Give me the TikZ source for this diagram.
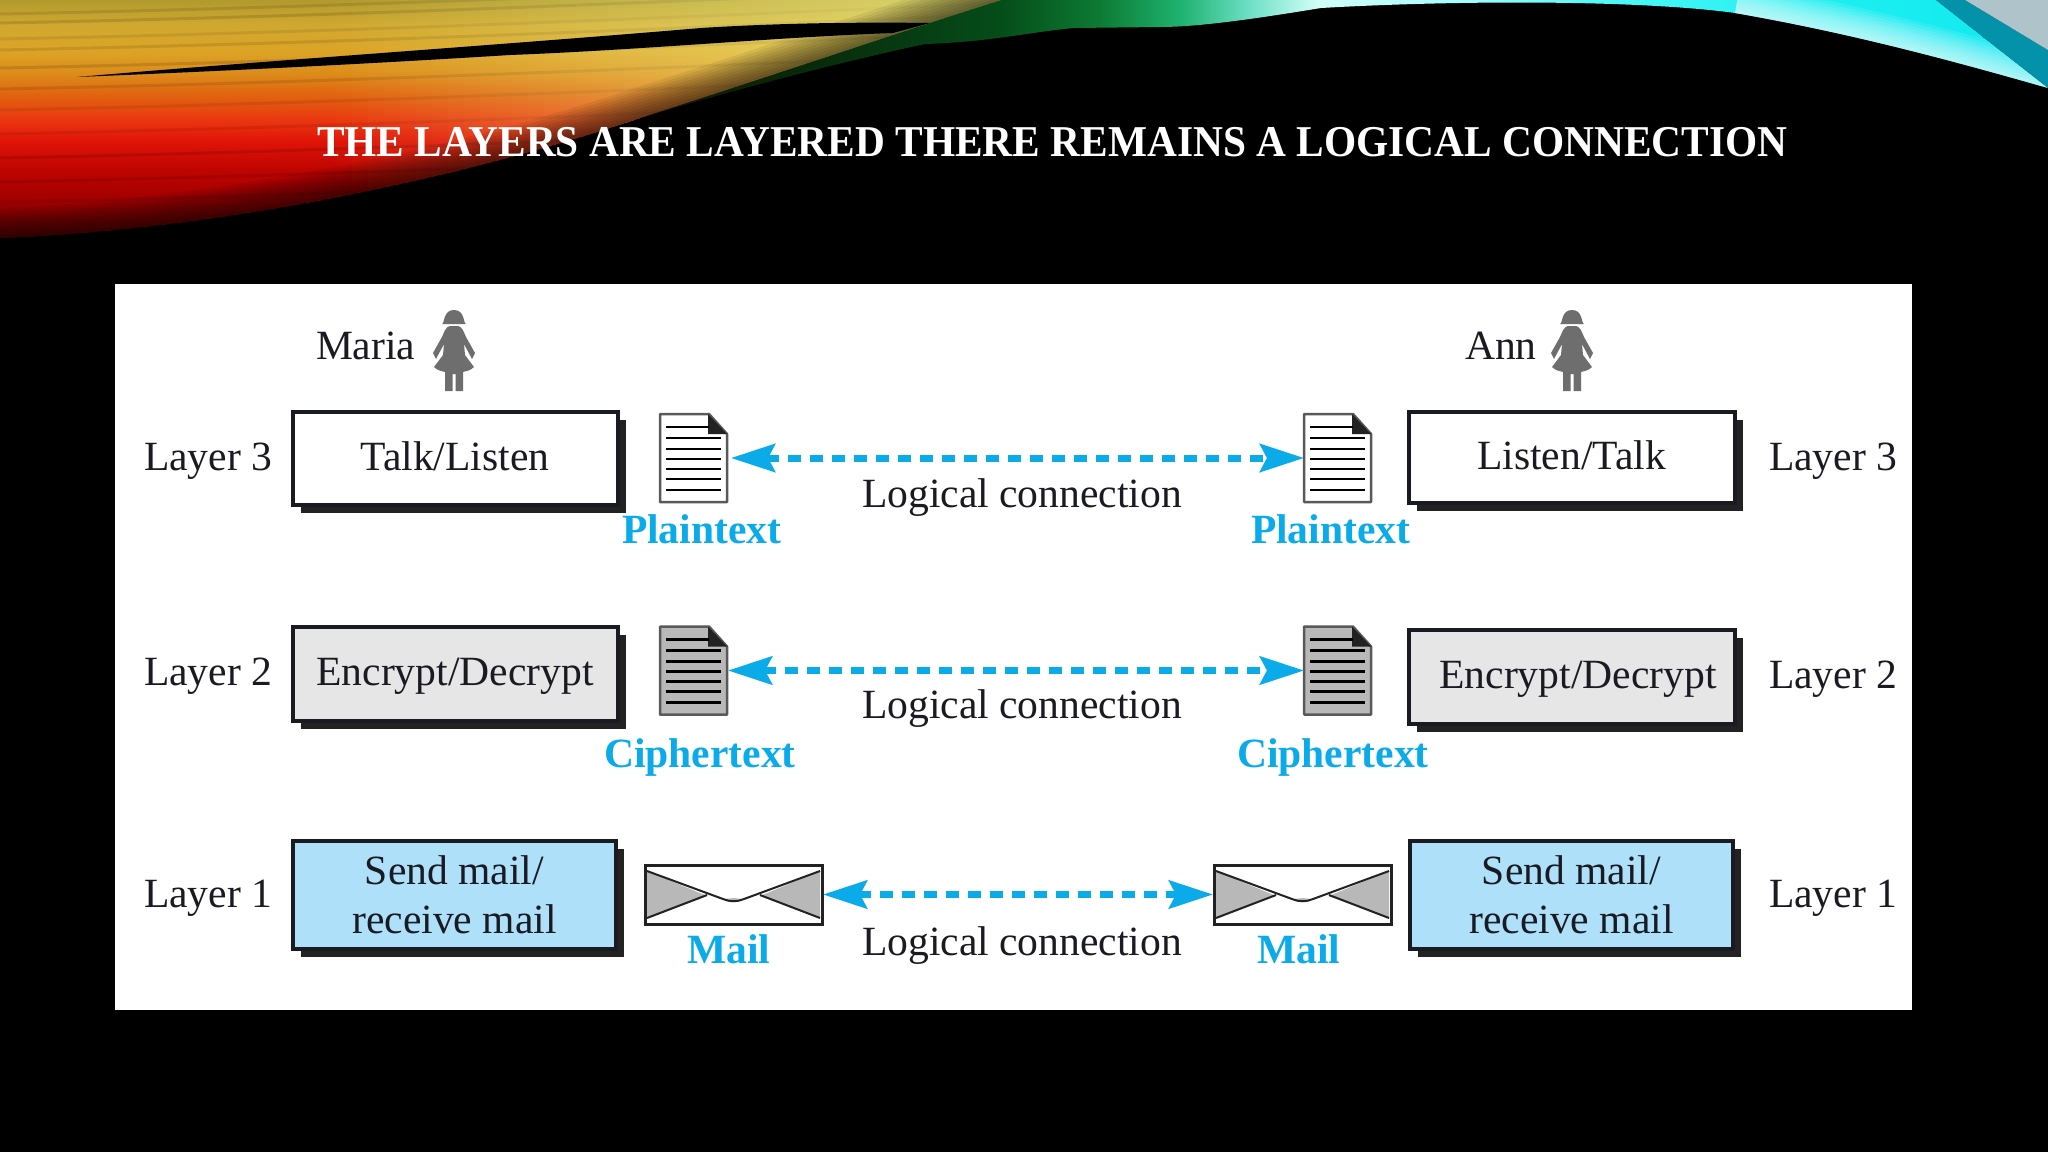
\documentclass[tikz,border=0pt]{standalone}
\usepackage{fontspec}
\setmainfont{Liberation Serif}
\usetikzlibrary{arrows.meta,shadows}

\definecolor{inkc}{HTML}{1A1A22}
\definecolor{bluec}{HTML}{0BABEA}
\definecolor{skyc}{HTML}{AEE0FA}
\definecolor{paleg}{HTML}{E6E6E6}
\definecolor{midg}{HTML}{B8B8B8}
\definecolor{mang}{HTML}{6E6E6E}
\definecolor{darkc}{HTML}{222222}

% stops of the warm part, top to bottom
\definecolor{wa}{HTML}{B39A2E}
\definecolor{wb}{HTML}{D0A830}
\definecolor{wc}{HTML}{DCA426}
\definecolor{wd}{HTML}{DC8A1A}
\definecolor{we}{HTML}{E06410}
\definecolor{wf}{HTML}{EA3610}
\definecolor{wg}{HTML}{E01408}
\definecolor{wh}{HTML}{BE0400}
\definecolor{wi}{HTML}{A00000}
\definecolor{wj}{HTML}{6C0000}
\definecolor{paley}{HTML}{F0F28C}

% left to right along the green and cyan part
\pgfdeclarehorizontalshading{coolband}{100bp}{
  rgb(0bp)=(.08,.08,0); rgb(25bp)=(.08,.08,0); rgb(30.7bp)=(.03,.16,.04);
  rgb(37.8bp)=(.02,.30,.10); rgb(41.3bp)=(.05,.48,.20); rgb(44.2bp)=(.12,.70,.44);
  rgb(46.7bp)=(.44,.88,.78); rgb(49.1bp)=(.82,1,.97); rgb(53.8bp)=(.66,1,1);
  rgb(59.1bp)=(.32,.97,.97); rgb(66.2bp)=(.12,.94,.94); rgb(75bp)=(.06,.91,.94);
  rgb(100bp)=(.06,.91,.94)}

\tikzset{
  box/.style={draw=inkc,line width=4pt,inner sep=0pt,outer sep=0pt,text=inkc,
    font=\fontsize{41.6}{49}\selectfont,align=center,minimum width=325pt,
    drop shadow={shadow xshift=8pt,shadow yshift=-8pt,opacity=1,fill=darkc}},
  onel/.style={box,text height=28pt,text depth=4pt},
  lbl/.style={anchor=base west,inner sep=0pt,outer sep=0pt,text=inkc,
    font=\fontsize{41.6}{49}\selectfont},
  blu/.style={anchor=base west,inner sep=0pt,outer sep=0pt,text=bluec,
    font=\fontsize{41.6}{49}\selectfont\bfseries},
  anchorbox/.style={rectangle,inner sep=0pt,outer sep=0pt},
  logic/.style={bluec,line width=7pt,dash pattern=on 13pt off 9pt,
    {Stealth[length=44pt,width=28pt,inset=7pt]}-{Stealth[length=44pt,width=28pt,inset=7pt]}}
}

% top y, bottom y, colour at the top, colour at the bottom
\newcommand{\bandrows}[4]{%
  \foreach \yy in {#1,\numexpr#1+2\relax,...,#2}{
    \pgfmathtruncatemacro{\pc}{100*(\yy-#1)/(#2-#1)}
    \fill[#4!\pc!#3] (0,\yy) rectangle (1002,\yy+2.5);
  }}

% name, centre x, centre y, page colour
\newcommand{\docicon}[4]{%
  \node[anchorbox,minimum width=67pt,minimum height=88pt] (#1) at (#2,#3) {};
  \begin{scope}[shift={(#1.north west)}]
    \draw[draw=black!65,line width=2.5pt,fill=#4,line join=round]
      (0,0) -- (49,0) -- (67,20) -- (67,88) -- (0,88) -- cycle;
    \fill[darkc] (48,0) -- (67,20) -- (48,20) -- cycle;
    \draw[black,line width=2.6pt] (6,13) -- (49,13);
    \foreach \yy in {24,35,45,55,65,76}
      \draw[black,line width=2.6pt] (6,\yy) -- (61,\yy);
  \end{scope}}

% name, centre x, centre y
\newcommand{\envicon}[3]{%
  \node[anchorbox,minimum width=177pt,minimum height=59pt] (#1) at (#2,#3) {};
  \begin{scope}[shift={(#1.north west)}]
    \fill[white] (0,0) rectangle (177,59);
    \fill[midg] (2,6) -- (62,31) -- (2,53) -- cycle;
    \fill[midg] (175,6) -- (115,31) -- (175,53) -- cycle;
    \fill[midg] (80,34) .. controls (86,37) and (91,37) .. (97,34) -- (88.5,33) -- cycle;
    \draw[darkc,line width=2pt] (2,6) -- (78,34) .. controls (85,37) and (92,37) .. (99,34) -- (175,6);
    \draw[darkc,line width=2pt] (2,53) -- (62,30) (175,53) -- (115,30);
    \draw[darkc,line width=3pt] (0,0) rectangle (177,59);
  \end{scope}}

% name, centre x, top y
\newcommand{\personicon}[3]{%
  \node[anchorbox,minimum width=42pt,minimum height=81pt,anchor=north] (#1) at (#2,#3) {};
  \begin{scope}[shift={(#1.north)}]
    \fill[mang] (-12,14) .. controls (-9,13) and (-11,0) .. (0,0)
      .. controls (11,0) and (9,13) .. (12,14) -- cycle;
    \fill[mang] (-4,16) -- (4,16) .. controls (8,17) and (9,20) .. (12,27) -- (21,43) -- (18,49)
      -- (10,34) -- (11,45) -- (20,57) .. controls (16,61) and (12,61) .. (9,62)
      -- (9,81) -- (1.5,81) -- (1.5,64) -- (-1.5,64) -- (-1.5,81) -- (-9,81) -- (-9,62)
      .. controls (-12,61) and (-16,61) .. (-20,57) -- (-11,45) -- (-10,34) -- (-18,49) -- (-21,43)
      -- (-12,27) .. controls (-9,20) and (-8,17) .. (-4,16) -- cycle;
  \end{scope}}

\begin{document}
\begin{tikzpicture}[x=1pt,y=-1pt]
\useasboundingbox (0,0) rectangle (2048,1152);
\fill[black] (0,0) rectangle (2048,1152);

% warm swoosh: rows of colour, paler to the right, darker at the lower edge
\begin{scope}
  \clip (0,0) -- (1002,0) .. controls (930,22) and (790,70) .. (640,118)
    .. controls (480,172) and (240,228) .. (0,238) -- cycle;
  \bandrows{0}{24}{wa}{wb}
  \bandrows{24}{50}{wb}{wc}
  \bandrows{50}{74}{wc}{wd}
  \bandrows{74}{94}{wd}{we}
  \bandrows{94}{120}{we}{wf}
  \bandrows{120}{140}{wf}{wg}
  \bandrows{140}{170}{wg}{wh}
  \bandrows{170}{200}{wh}{wi}
  \bandrows{200}{238}{wi}{wj}
  % fine streaks
  \foreach \yy/\op in {8/.10,17/.12,33/.08,44/.10,62/.12,83/.10,104/.08,128/.08,152/.12,176/.10,196/.08}
    \draw[black,line width=3pt,opacity=\op] (0,\yy+6) .. controls (300,\yy) and (600,\yy-12) .. (1002,\yy-30);
  \foreach \xx in {320,336,...,1000}{
    \pgfmathsetmacro{\op}{0.7*(\xx-320)/680}
    \fill[paley,opacity=\op] (\xx,0) rectangle (\xx+16,238);
  }
  \foreach \wd in {6,12,18,24,30,36,42,48,54,60}
    \draw[black,line width=\wd pt,opacity=.07] (1002,0) .. controls (930,22) and (790,70) .. (640,118)
      .. controls (480,172) and (240,228) .. (0,238);
\end{scope}
\fill[black] (77,77) .. controls (250,62) and (500,45) .. (701,28)
  .. controls (780,23) and (860,22) .. (930,23) -- (893,33)
  .. controls (780,37) and (640,50) .. (510,55) .. controls (350,65) and (200,72) .. (77,77) -- cycle;

% green and cyan swoosh
\begin{scope}
  \clip (640,118) .. controls (790,70) and (930,22) .. (1002,0) -- (1936,0) -- (2048,88)
    .. controls (1950,60) and (1850,33) .. (1735,13) .. controls (1640,0) and (1460,0) .. (1321,8)
    .. controls (1260,18) and (1200,27) .. (1160,27) -- (1074,28) .. controls (1030,32) and (990,42) .. (925,44)
    .. controls (850,60) and (740,88) .. (640,118) -- cycle;
  \shade[shading=coolband] (640,0) rectangle (2048,118);
  \foreach \wd in {6,12,18,24,30,36,42,48,54,60}
    \draw[white,line width=\wd pt,opacity=.1] (2048,88)
      .. controls (1950,60) and (1850,33) .. (1735,13);
\end{scope}
\fill[bluec!40!teal] (1936,0) -- (2048,88) -- (2048,50) -- (1965,0) -- cycle;
\fill[cyan!25!gray!60!white] (1965,0) -- (2048,50) -- (2048,0) -- cycle;

% slide title
\node[anchor=base west,inner sep=0pt,text=white,font=\fontsize{44}{50}\selectfont\bfseries]
  (title) at (317,156) {\scalebox{.94}[1]{THE LAYERS ARE LAYERED THERE REMAINS A LOGICAL CONNECTION}};

% white panel
\fill[white] (115,284) rectangle (1912,1010);

% people
\node[lbl] (maria) at (316,359) {Maria};
\personicon{mariaicon}{454}{310}
\node[lbl] (ann) at (1465,359) {Ann};
\personicon{annicon}{1572}{310}

% boxes left
\node[onel,minimum height=93pt,fill=white] (talk) at (455,458) {Talk/Listen};
\node[onel,minimum height=94pt,fill=paleg] (encl) at (455,673.5) {Encrypt/Decrypt};
\node[box,minimum height=108pt,minimum width=323pt,fill=skyc] (mailbl) at (454.5,894.5) {Send mail/\\receive mail};
% boxes right
\node[onel,minimum height=91pt,minimum width=326pt,fill=white] (listen) at (1571.5,457) {Listen/Talk};
\node[onel,minimum height=94pt,minimum width=326pt,fill=paleg] (encr) at (1571.5,676.5) {\hspace*{13pt}Encrypt/Decrypt};
\node[box,minimum height=108pt,minimum width=323pt,fill=skyc] (mailbr) at (1571.5,894.5) {Send mail/\\receive mail};

% layer labels
\node[lbl] (l3l) at (144,470) {Layer 3};
\node[lbl] (l2l) at (144,685) {Layer 2};
\node[lbl] (l1l) at (144,907) {Layer 1};
\node[lbl] (l3r) at (1769,470) {Layer 3};
\node[lbl] (l2r) at (1769,688) {Layer 2};
\node[lbl] (l1r) at (1769,907) {Layer 1};

% icons
\docicon{pl}{693.5}{458}{white}
\docicon{pr}{1337.5}{458}{white}
\docicon{cl}{693.5}{670.5}{midg}
\docicon{cr}{1337.5}{670.5}{midg}
\envicon{ml}{733.5}{894.5}
\envicon{mr}{1302.5}{894.5}

% logical connections
\draw[logic,shorten <=4pt] (pl.east) -- (pr.west);
\draw[logic,shorten <=1pt] (cl.east) -- (cr.west);
\draw[logic,shorten <=1pt,shorten >=1pt] (ml.east) -- (mr.west);
\node[lbl] (lc3) at (862,507) {Logical connection};
\node[lbl] (lc2) at (862,718) {Logical connection};
\node[lbl] (lc1) at (862,955) {Logical connection};

% blue captions
\node[blu] (ptl) at (622,543) {Plaintext};
\node[blu] (ptr) at (1251,543) {Plaintext};
\node[blu] (ctl) at (604,767) {Ciphertext};
\node[blu] (ctr) at (1237,767) {Ciphertext};
\node[blu] (mcl) at (687,963) {Mail};
\node[blu] (mcr) at (1257,963) {Mail};
\end{tikzpicture}
\end{document}
